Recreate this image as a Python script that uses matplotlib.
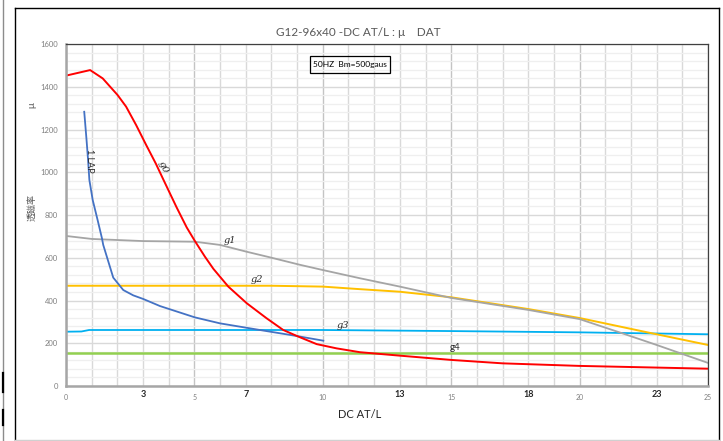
import matplotlib.pyplot as plt
import numpy as np
from matplotlib.lines import Line2D
from matplotlib.patches import Rectangle

plt.rcParams['font.family'] = ['Lato', 'DejaVu Sans']

# --- data (x = DC AT/L, y = mu)
g0_x = [0, 0.94, 1.43, 2.01, 2.34, 2.73, 3.12, 3.5, 3.79, 4.31, 4.70, 5.02, 5.41, 5.74, 6.32, 7.04, 7.81,
        8.46, 9.05, 9.76, 10.54, 11.45, 13, 15, 17, 20, 25]
g0_y = [1452, 1478, 1439, 1361, 1307, 1221, 1128, 1040, 966, 835, 742, 678, 605, 548, 465, 387, 317,
        262, 231, 196, 176, 158, 142, 122, 106, 94, 81]

lap_x = [0.71, 0.8, 0.86, 0.91, 1.04, 1.23, 1.4, 1.45, 1.84, 2.23, 2.62, 3.01, 3.66, 5.02, 6.0, 7.55, 8.98, 10.02]
lap_y = [1283, 1151, 1057, 964, 870, 777, 691, 660, 507, 449, 424, 407, 374, 321, 293, 262, 234, 212]

g1_x = [0, 1, 3, 5.02, 6.0, 7.04, 7.94, 9.11, 10.02, 11.45, 13, 15, 18, 20, 21.7, 23, 25]
g1_y = [702, 688, 678, 675, 660, 628, 602, 567, 542, 504, 465, 412, 356, 313, 245, 192, 108]

g2_x = [0, 5, 8, 10, 11.45, 13, 15, 18, 20, 22.6, 25]
g2_y = [469, 469, 469, 465, 453, 441, 415, 360, 318, 252, 192]

g3_x = [0, 0.6, 0.9, 10, 15, 20, 25]
g3_y = [254, 255, 262, 262, 257, 251, 242]

g4_x = [0, 25]
g4_y = [156, 156]

small_ticks = [0, 5, 10, 15, 20, 25]
bold_ticks = [3, 7, 13, 18, 23]

fig = plt.figure(figsize=(7.23, 4.41), dpi=100)
ax = fig.add_axes([66/723, 1-386/441, 642/723, 342/441])

ax.set_xlim(0, 25)
ax.set_ylim(0, 1600)

# grid
ax.set_yticks(np.arange(0, 1601, 200))
ax.set_yticks(np.arange(0, 1601, 40), minor=True)
ax.set_xticks(small_ticks)
ax.set_xticks(np.arange(0, 26, 1), minor=True)
ax.grid(which='minor', axis='y', color='#efefef', lw=0.9)
ax.grid(which='major', axis='y', color='#d9d9d9', lw=1.0)
ax.grid(which='minor', axis='x', color='#d9d9d9', lw=1.0)
ax.grid(which='major', axis='x', color='#c4c4c4', lw=1.0)
ax.set_axisbelow(True)
ax.tick_params(which='both', length=0)
ax.tick_params(axis='y', labelsize=5.5, labelcolor='#7f7f7f', pad=6)
ax.tick_params(axis='x', labelsize=5, labelcolor='#7f7f7f', pad=6)

for s in ['left', 'bottom']:
    ax.spines[s].set_color('#a6a6a6')
    ax.spines[s].set_linewidth(1.8)
for s in ['top', 'right']:
    ax.spines[s].set_color('#404040')
    ax.spines[s].set_linewidth(0.9)

for t in bold_ticks:
    ax.text(t, -42, str(t), ha='center', va='center', fontsize=6.5,
            fontweight='bold', color='#262626')

# curves
ax.plot(g4_x, g4_y, color='#92d050', lw=1.8)
ax.plot(g3_x, g3_y, color='#00b0f0', lw=1.3)
ax.plot(g2_x, g2_y, color='#ffc000', lw=1.4)
ax.plot(g1_x, g1_y, color='#a5a5a5', lw=1.3)
ax.plot(lap_x, lap_y, color='#4472c4', lw=1.3)
ax.plot(g0_x, g0_y, color='#ff0000', lw=1.4)

# curve labels
ax.text(0.93, 1053, '1 LAP', rotation=-90, ha='center', va='center', fontsize=6.5, color='#262626')
ax.text(3.78, 1025, 'g0', rotation=-68, ha='center', va='center', fontsize=7,
        family='DejaVu Serif', style='italic', color='#262626')
ax.text(6.39, 683, 'g1', ha='center', va='center', fontsize=7,
        family='DejaVu Serif', style='italic', color='#262626')
ax.text(7.44, 496, 'g2', ha='center', va='center', fontsize=7,
        family='DejaVu Serif', style='italic', color='#262626')
ax.text(10.8, 285, 'g3', ha='center', va='center', fontsize=7,
        family='DejaVu Serif', style='italic', color='#262626')
ax.text(15.15, 180, 'g4', ha='center', va='center', fontsize=7, color='#262626')

# info box
ax.add_patch(Rectangle((0.380, 0.915), 0.125, 0.050, transform=ax.transAxes,
                       fill=False, ec='black', lw=0.9))
ax.text(0.4425, 0.940, '50HZ  Bm=500gaus', transform=ax.transAxes,
        ha='center', va='center', fontsize=6, color='black')

# titles / labels
fig.text(358/723, 1-33/441, 'G12-96x40 -DC AT/L : \u03bc\u3000DAT', ha='center', va='center',
         fontsize=8.5, color='#595959', family=['Lato', 'Noto Sans CJK SC'])
fig.text(360/723, 1-414/441, 'DC AT/L', ha='center', va='center', fontsize=8, color='#262626')
fig.text(32/723, 1-105/441, '\u03bc', rotation=90, ha='center', va='center', fontsize=7, color='#595959')
fig.text(32/723, 1-207/441, '透磁率', rotation=90, ha='center', va='center', fontsize=6.5,
         color='#595959', family=['Noto Sans CJK SC', 'DejaVu Sans'])

# outer chart frame
fig.add_artist(Line2D([15/723, 15/723], [1-440/441, 1-8/441], color='black', lw=1, transform=fig.transFigure))
fig.add_artist(Line2D([15/723, 719/723], [1-8/441, 1-8/441], color='black', lw=1, transform=fig.transFigure))
fig.add_artist(Line2D([719/723, 719/723], [1-440/441, 1-8/441], color='black', lw=1, transform=fig.transFigure))
fig.add_artist(Line2D([15/723, 719/723], [1-440/441, 1-440/441], color='#d0d0d0', lw=1, transform=fig.transFigure))
# left screenshot edge
fig.add_artist(Line2D([3/723, 3/723], [0, 1], color='#8c8c8c', lw=1.0, transform=fig.transFigure))
fig.add_artist(Line2D([3/723, 3/723], [1-392/441, 1-373/441], color='black', lw=1.6, transform=fig.transFigure))
fig.add_artist(Line2D([3/723, 3/723], [1-425/441, 1-410/441], color='black', lw=1.6, transform=fig.transFigure))

fig.savefig('out.png', dpi=100)
